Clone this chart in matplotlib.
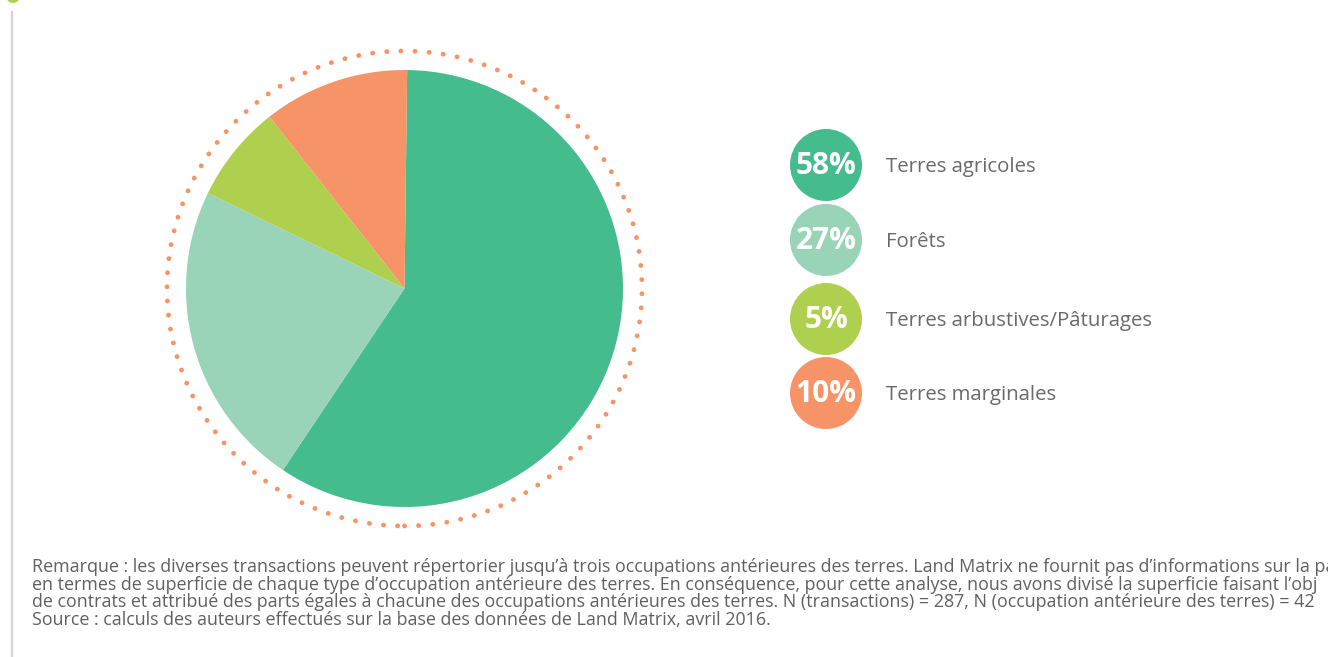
import matplotlib as mpl
mpl.use('Agg')

import matplotlib.pyplot as plt
from matplotlib.patches import Circle

# slice sizes as drawn (they do not match the printed labels exactly)
categories = ["Terres agricoles", "Forêts", "Terres arbustives/Pâturages", "Terres marginales"]
shares = [59.2, 22.8, 7.2, 10.8]
pct_labels = ["58%", "27%", "5%", "10%"]
colors = ["#44bc8d", "#99d3b8", "#afd04f", "#f69468"]

# note lines as far as they are visible in the source figure
notes = [
    "Remarque : les diverses transactions peuvent répertorier jusqu’à trois occupations antérieures des terres. Land Matrix ne fournit pas d’informations sur la pa",
    "en termes de superficie de chaque type d’occupation antérieure des terres. En conséquence, pour cette analyse, nous avons divisé la superficie faisant l’obj",
    "de contrats et attribué des parts égales à chacune des occupations antérieures des terres. N (transactions) = 287, N (occupation antérieure des terres) = 42",
    "Source : calculs des auteurs effectués sur la base des données de Land Matrix, avril 2016.",
]

plt.rcParams['font.family'] = ['Open Sans', 'DejaVu Sans']

W, H = 1328, 657
fig = plt.figure(figsize=(W / 100, H / 100), dpi=100)
ax = fig.add_axes([0, 0, 1, 1])

cx, cy, r = 404.5, H - 288.5, 218.5

ax.pie(shares, colors=colors, startangle=89.3, counterclock=False,
       center=(cx, cy), radius=r, frame=True,
       wedgeprops=dict(linewidth=0))
ax.set_xlim(0, W)
ax.set_ylim(0, H)
ax.set_aspect('equal')
ax.axis('off')

# dotted ring
ring = Circle((cx, cy), 237.5, fill=False, edgecolor="#f69468",
              linewidth=3.5, linestyle=(0, (0.01, 2.9)), capstyle='round')
ax.add_patch(ring)

# legend bubbles
ys = [165, 240, 319, 393]
for lab, pct, col, y in zip(categories, pct_labels, colors, ys):
    ax.add_patch(Circle((826, H - y), 36, color=col, linewidth=0))
    ax.text(826, H - y - 1, pct, color="white", fontsize=21.5, fontweight='bold',
            ha='center', va='center')
    ax.text(886, H - y - 2, lab, color="#6a6a6a", fontsize=14.7,
            ha='left', va='center')

# left rule and top bullet
ax.plot([12, 12], [H - 12, 0], color="#d4d4d4", linewidth=1.6)
ax.add_patch(Circle((13, H + 4), 7, color="#afd04f", linewidth=0))

for i, line in enumerate(notes):
    ax.text(32, H - (567 + i * 17.7), line, color="#606060", fontsize=12.85,
            ha='left', va='center')

fig.savefig("out.png", dpi=100)
